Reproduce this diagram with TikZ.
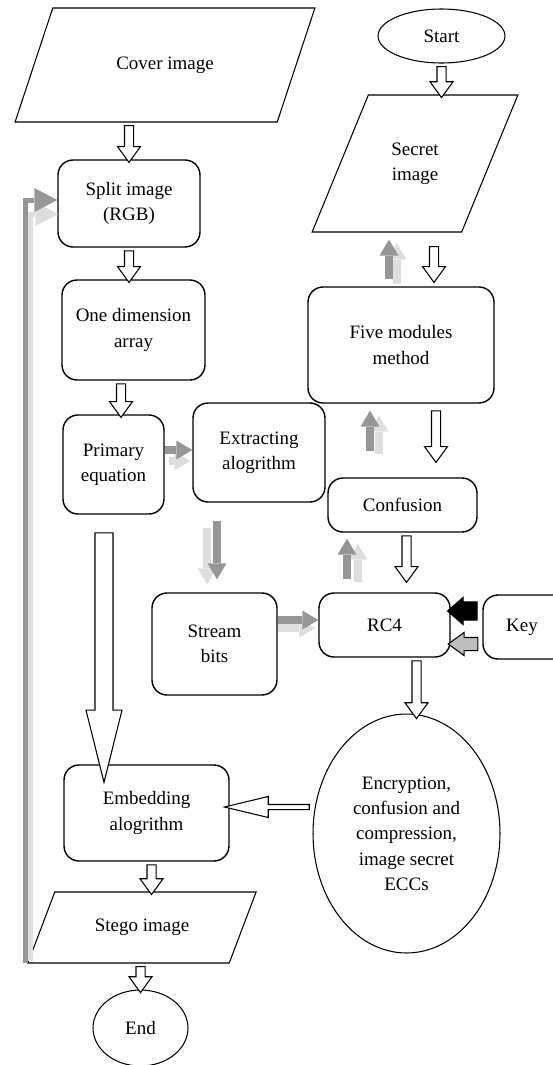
\documentclass[tikz,border=0pt]{standalone}
\usepackage{fontspec}
\setmainfont{Liberation Serif}
\usetikzlibrary{arrows.meta, shapes.geometric, shapes.arrows, calc, positioning}

\definecolor{shadedark}{RGB}{150,150,150}
\definecolor{shadelight}{RGB}{222,222,222}
\definecolor{keygray}{RGB}{190,190,190}

\tikzset{
  proc/.style = {draw, line width=0.8pt, rounded corners=0.3cm, align=center, inner sep=0pt},
  io/.style = {draw, line width=0.6pt, trapezium, trapezium stretches=true, align=center, inner sep=0pt},
  term/.style = {draw, line width=0.6pt, ellipse, align=center, inner sep=0pt},
  hollow/.style = {draw, fill=white, line width=0.6pt, single arrow, inner xsep=0pt, inner ysep=0.08cm, outer sep=0pt,
    minimum width=0.44cm, single arrow head extend=0.14cm, single arrow tip angle=72},
  bigarrow/.style = {inner ysep=0.17cm, minimum width=0.7cm, single arrow head extend=0.18cm, single arrow tip angle=28},
  thinarrow/.style = {inner ysep=0.04cm, minimum width=0.4cm, single arrow head extend=0.16cm, single arrow tip angle=27},
  flowdark/.style = {draw=shadedark, line width=0.15cm, -{Triangle[length=0.32cm, width=0.38cm, line width=0pt]}},
  flowlight/.style = {draw=shadelight, line width=0.15cm, -{Triangle[length=0.32cm, width=0.38cm, line width=0pt]}},
  flowback/.style = {line width=0.1cm, -{Triangle[length=0.46cm, width=0.48cm, line width=0pt]}},
}

% block arrow from #2 to #3
\newcommand\blockarrow[3][]{%
  \path let \p1=(#2), \p2=(#3), \n1={veclen(\x2-\x1,\y2-\y1)}, \n2={atan2(\y2-\y1,\x2-\x1)} in
    node[hollow, minimum height=\n1, rotate=\n2, #1] at ($(\p1)!0.5!(\p2)$) {};}

\begin{document}
\begin{tikzpicture}[x=0.02cm, y=-0.02cm, font={\fontsize{10.8}{14.4}\selectfont}]
	\useasboundingbox (0,0) rectangle (552,1065);

	\node[io, trapezium left angle=45.5, trapezium right angle=134.5, minimum width=6.04cm, minimum height=2.28cm] (cover) at (165,65) {Cover image};
	\node[term, minimum width=2.54cm, minimum height=1.08cm] (start) at (441.5,36) {Start};
	\node[io, trapezium left angle=55.8, trapezium right angle=124.2, minimum width=4.12cm, minimum height=2.74cm] (secret) at (415,163.5) {Secret\\image};
	\node[proc, minimum width=2.84cm, minimum height=1.74cm] (split) at (129,203.5) {Split image\\(RGB)};
	\node[proc, minimum width=2.86cm, minimum height=2cm] (onedim) at (133.5,330) {One dimension\\array};
	\node[proc, minimum width=2.02cm, minimum height=1.98cm] (primary) at (113.5,464.5) {Primary\\equation};
	\node[proc, minimum width=2.64cm, minimum height=1.98cm] (extract) at (259,452.5) {Extracting\\alogrithm};
	\node[proc, minimum width=3.72cm, minimum height=2.32cm] (five) at (401,345) {Five modules\\method};
	\node[proc, minimum width=2.98cm, minimum height=1.08cm] (confusion) at (402.5,505) {Confusion};
	\node[proc, minimum width=2.5cm, minimum height=2.04cm] (stream) at (214.5,644) {Stream\\bits};
	\node[proc, minimum width=2.62cm, minimum height=1.28cm] (rc4) at (384.5,625) {RC4};
	\node[proc, minimum width=1.9cm, minimum height=1.28cm] (key) at (530.5,627) {Key\hspace*{0.34cm}};
	\node[term, minimum width=3.74cm, minimum height=4.78cm] (ecc) at (406.5,833.5) {Encryption,\\confusion and\\compression,\\image secret\\ECCs};
	\node[proc, minimum width=3.3cm, minimum height=1.92cm] (embed) at (146.5,813) {Embedding\\alogrithm};
	\node[io, trapezium left angle=48.9, trapezium right angle=131.1, minimum width=4.58cm, minimum height=1.42cm] (stego) at (142,927.5) {Stego image};
	\node[term, minimum width=1.9cm, minimum height=1.52cm] (end) at (140.5,1028) {End};

	% hollow arrows
	\blockarrow{split.north |- cover.south}{split.north}
	\blockarrow{start.south}{start.south |- secret.north}
	\blockarrow{split.south}{split.south |- onedim.north}
	\blockarrow{$(onedim.south)+(-12.5,0)$}{$(primary.north)+(7.5,0)$}
	\blockarrow[bigarrow]{$(primary.south)+(-9.5,0)$}{$(primary.south |- embed.north)+(-9.5,0)$}
	\blockarrow{$(five.north |- secret.south)+(33,11)$}{$(five.north)+(33,-7)$}
	\blockarrow{$(five.south)+(35,4)$}{$(five.south |- confusion.north)+(35,-18)$}
	\blockarrow{$(confusion.south)+(4,0)$}{$(confusion.south |- rc4.north)+(4,-13)$}
	\blockarrow{$(rc4.south)+(32,0)$}{$(rc4.south |- ecc.north)+(32,2)$}
	\blockarrow[thinarrow]{$(ecc.west |- embed.east)+(2,-6)$}{$(embed.east)+(0,-6)$}
	\blockarrow{$(embed.south)+(5,0)$}{$(embed.south |- stego.north)+(5,0)$}
	\blockarrow{end.north |- stego.south}{end.north}

	% key arrows
	\blockarrow[fill=black, inner ysep=0.17cm, minimum width=0.52cm, single arrow head extend=0.09cm, single arrow tip angle=82]{$(key.west)+(0,-16)$}{$(rc4.east)+(2,-14)$}
	\blockarrow[fill=keygray, inner ysep=0.12cm, minimum width=0.44cm, single arrow head extend=0.1cm]{$(key.west)+(0,17)$}{$(rc4.east)+(2,19)$}

	% shaded arrows
	\draw[flowlight] ($(five.north)+(-4,-2)$) -- ($(five.north |- secret.south)+(-4,11)$);
	\draw[flowdark] ($(five.north)+(-12,-7)$) -- ($(five.north |- secret.south)+(-12,7)$);
	\draw[flowlight] ($(primary.east)+(4,-3.5)$) -- ($(extract.west |- primary.east)+(-2,-3.5)$);
	\draw[flowdark] ($(primary.east)+(0,-14.5)$) -- ($(extract.west |- primary.east)+(0,-14.5)$);
	\draw[flowlight] ($(stream.north |- extract.south)+(-7.5,25)$) -- ($(stream.north)+(-7.5,-8)$);
	\draw[flowdark] ($(stream.north |- extract.south)+(2.5,18)$) -- ($(stream.north)+(2.5,-13)$);
	\draw[flowlight] ($(five.south |- confusion.north)+(-22,-23)$) -- ($(five.south)+(-22,12)$);
	\draw[flowdark] ($(five.south |- confusion.north)+(-31,-26)$) -- ($(five.south)+(-31,7)$);
	\draw[flowlight] ($(confusion.south |- rc4.north)+(-44.5,-10)$) -- ($(confusion.south)+(-44.5,11)$);
	\draw[flowdark] ($(confusion.south |- rc4.north)+(-55.5,-13)$) -- ($(confusion.south)+(-55.5,6)$);
	\draw[flowlight] ($(stream.east)+(0,-16)$) -- ($(rc4.west |- stream.east)+(-3,-16)$);
	\draw[flowdark] ($(stream.east)+(0,-24)$) -- ($(rc4.west |- stream.east)+(0,-24)$);
	\draw[flowback, draw=shadelight] ($(stego.bottom left corner)+(3,-3)$) |- ($(split.west)+(1,10.5)$);
	\draw[flowback, draw=shadedark] ($(stego.bottom left corner)+(-2,-1)$) |- ($(split.west)+(0,-3.5)$);
\end{tikzpicture}
\end{document}
